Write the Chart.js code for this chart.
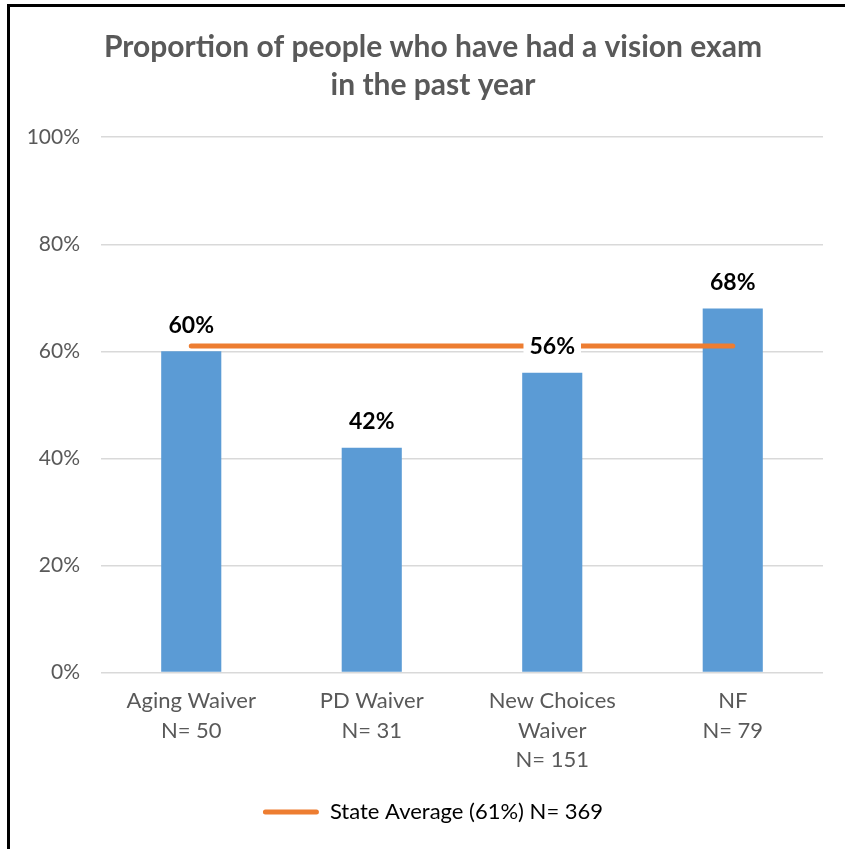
<!DOCTYPE html>
<html>
<head>
<meta charset="utf-8">
<script src="https://cdn.jsdelivr.net/npm/chart.js@4.4.1/dist/chart.umd.min.js"></script>
<style>
  html, body { margin: 0; padding: 0; background: #fff; }
  #wrap { position: relative; width: 845px; height: 849px; overflow: hidden; }
  #frameTop { position: absolute; left: 7px; top: 4px; width: 838px; height: 3px; background: #000; }
  #frameLeft { position: absolute; left: 7px; top: 4px; width: 3px; height: 845px; background: #000; }
  canvas { position: absolute; left: 0; top: 0; }
</style>
</head>
<body>
<div id="wrap">
  <canvas id="chart" width="845" height="849"></canvas>
  <div id="frameTop"></div>
  <div id="frameLeft"></div>
</div>
<script>
// Programme groups and sample sizes
const categories = [
  ["Aging Waiver", "N= 50"],
  ["PD Waiver", "N= 31"],
  ["New Choices", "Waiver", "N= 151"],
  ["NF", "N= 79"]
];
// Percent with a vision exam in the past year
const examRates = [60, 42, 56, 68];
// Statewide average, drawn across all groups
const stateAverage = [61, 61, 61, 61];
const stateLabel = "State Average (61%) N= 369";
const yTicks = [0, 20, 40, 60, 80, 100];

const FONT = "Lato, 'Open Sans', sans-serif";
const GREY = "#595959";

const valueLabels = {
  id: "valueLabels",
  afterDatasetsDraw(chart) {
    const ctx = chart.ctx;
    const meta = chart.getDatasetMeta(0);
    ctx.save();
    ctx.font = "bold 23px " + FONT;
    ctx.textAlign = "center";
    ctx.textBaseline = "middle";
    meta.data.forEach((bar, i) => {
      const text = examRates[i] + "%";
      const y = bar.y - 26;
      const w = ctx.measureText(text).width + 12;
      ctx.fillStyle = "#fff";
      ctx.fillRect(bar.x - w / 2, y - 13, w, 26);
      ctx.fillStyle = "#000";
      ctx.fillText(text, bar.x, y);
    });
    ctx.restore();
  }
};

new Chart(document.getElementById("chart"), {
  type: "bar",
  data: {
    labels: categories,
    datasets: [
      {
        label: "Vision exam in past year",
        data: examRates,
        backgroundColor: "#5B9BD5",
        barPercentage: 0.333,
        categoryPercentage: 1.0,
        order: 2
      },
      {
        type: "line",
        label: stateLabel,
        data: stateAverage,
        borderColor: "#ED7D31",
        backgroundColor: "#ED7D31",
        borderWidth: 5,
        borderCapStyle: "round",
        pointRadius: 0,
        fill: false,
        order: 1
      }
    ]
  },
  options: {
    responsive: false,
    animation: false,
    layout: { padding: { left: 21, right: 0, top: 0, bottom: 16 } },
    plugins: {
      title: {
        display: true,
        text: ["Proportion of people who have had a vision exam", "in the past year"],
        color: GREY,
        font: { family: FONT, size: 30, weight: "bold", lineHeight: 1.27 },
        padding: { top: 28, bottom: 33 }
      },
      legend: {
        display: true,
        position: "bottom",
        labels: {
          color: GREY,
          font: { family: FONT, size: 22 },
          boxWidth: 56,
          boxHeight: 5,
          padding: 10,
          generateLabels() {
            return [{
              text: stateLabel,
              fillStyle: "#ED7D31",
              strokeStyle: "#ED7D31",
              lineWidth: 0,
              hidden: false,
              datasetIndex: 1,
              borderRadius: 2.5
            }];
          },
          useBorderRadius: true,
          borderRadius: 2.5
        }
      },
      tooltip: { enabled: false }
    },
    scales: {
      x: {
        grid: { display: false },
        border: { display: false },
        ticks: {
          color: GREY,
          font: { family: FONT, size: 22, lineHeight: 1.34 },
          padding: 6,
          maxRotation: 0,
          autoSkip: false
        },
        afterFit(scale) { scale.height += 10; }
      },
      y: {
        min: 0,
        max: 100,
        afterBuildTicks(scale) {
          scale.ticks = yTicks.map(v => ({ value: v }));
        },
        afterFit(scale) { scale.width = 80; },
        grid: { color: "#D9D9D9", lineWidth: 1.5, drawTicks: false },
        border: { display: false },
        ticks: {
          color: GREY,
          font: { family: FONT, size: 21 },
          padding: 21,
          callback: v => v + "%"
        }
      },
      yRight: {
        position: "right",
        min: 0,
        max: 100,
        grid: { display: false, drawTicks: false },
        border: { display: false },
        ticks: { display: false },
        afterFit(scale) { scale.width = 22; }
      }
    }
  },
  plugins: [valueLabels]
});
</script>
</body>
</html>
